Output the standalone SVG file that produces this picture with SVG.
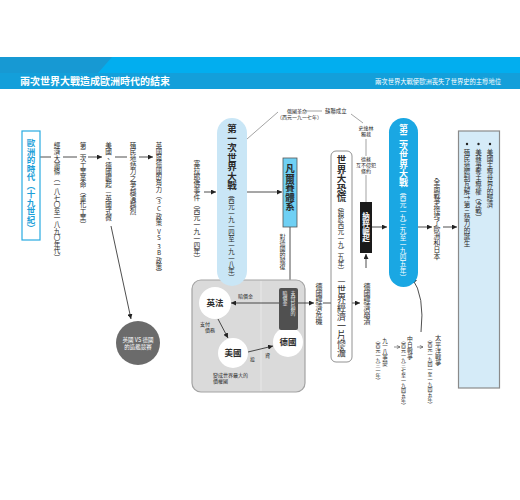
<svg xmlns="http://www.w3.org/2000/svg" width="520" height="500" viewBox="0 0 520 500">
<style>
text { font-family: "Noto Sans CJK TC", "Noto Sans CJK SC", sans-serif; fill: #2a2a2a; }
.v { writing-mode: vertical-rl; text-orientation: upright; }
.b { font-weight: bold; }
.w { fill: #fff; }
.ln { stroke: #222; stroke-width: 0.8; fill: none; }
.gl { stroke: #666; stroke-width: 0.6; fill: none; }
.c { text-anchor: middle; }
</style>
<defs>
<marker id="ah" viewBox="0 0 10 10" refX="10" refY="5" markerWidth="5" markerHeight="5" orient="auto-start-reverse" markerUnits="userSpaceOnUse"><path d="M0,0 L10,5 L0,10 z" fill="#222"/></marker>
<marker id="oa" viewBox="0 0 10 10" refX="10" refY="5" markerWidth="4" markerHeight="4" orient="auto" markerUnits="userSpaceOnUse"><path d="M2,1 L10,5 L2,9" fill="none" stroke="#444" stroke-width="1.5"/></marker>
</defs>
<rect width="520" height="500" fill="#fff"/>
<g id="header">
<rect x="0" y="57" width="520" height="16" fill="#02aeef"/>
<polygon points="0,57 112,57 98,73 0,73" fill="#1799d3"/>
<rect x="0" y="73" width="520" height="16" fill="#139fda"/>
<text x="20" y="84.5" font-size="10" class="b w">兩次世界大戰造成歐洲時代的結束</text>
<text x="501" y="83.5" font-size="6.3" class="w" text-anchor="end">兩次世界大戰使歐洲喪失了世界史的主導地位</text>
</g>
<g id="connectors">
<line class="ln" x1="40" y1="157" x2="51" y2="157"/>
<line class="ln" x1="63" y1="157" x2="77" y2="157"/>
<line class="ln" x1="88" y1="157" x2="102" y2="157" marker-end="url(#ah)"/>
<line class="ln" x1="115" y1="157" x2="127" y2="157"/>
<line class="ln" x1="139" y1="157" x2="153" y2="157" marker-end="url(#ah)"/>
<line class="ln" x1="111" y1="226" x2="131" y2="319" marker-end="url(#ah)"/>
<line class="ln" x1="204" y1="192" x2="216" y2="192" marker-end="url(#ah)"/>
<line class="ln" x1="247" y1="192" x2="282" y2="192" marker-end="url(#ah)"/>
<line class="gl" x1="247" y1="139" x2="278" y2="112"/>
<line class="gl" x1="305" y1="111" x2="322" y2="111"/>
<line class="gl" x1="351" y1="114" x2="363" y2="123"/>
<line class="gl" x1="366" y1="139" x2="366" y2="156"/>
<line class="gl" x1="366" y1="175" x2="366" y2="202"/>
<line class="ln" x1="290" y1="227" x2="290" y2="288"/>
<line class="ln" x1="372" y1="227" x2="387" y2="227" marker-end="url(#ah)"/>
<line class="ln" x1="366" y1="268" x2="366" y2="254" marker-end="url(#ah)"/>
<line class="ln" x1="418" y1="227" x2="432" y2="227" marker-end="url(#ah)"/>
<line class="ln" x1="443" y1="227" x2="457" y2="227" marker-end="url(#ah)"/>
<line class="ln" x1="323" y1="303" x2="331" y2="303"/>
<line class="ln" x1="352" y1="303" x2="360" y2="303" marker-end="url(#ah)"/>
<path class="ln" d="M421,332 Q425,296 412,278" marker-end="url(#ah)"/>
<line x1="394" y1="347" x2="400" y2="347" stroke="#444" stroke-width="0.6" marker-end="url(#oa)"/>
<line x1="417" y1="347" x2="423" y2="347" stroke="#444" stroke-width="0.6" marker-end="url(#oa)"/>
</g>
<g id="europe">
<rect x="22" y="131" width="18" height="109" fill="#fff" stroke="#29abe2" stroke-width="1.2"/>
<text x="31" y="139" font-size="8.5" class="v b" style="fill:#1d9fd9">歐洲的時代（十九世紀）</text>
</g>
<g id="chain">
<text x="57" y="142" font-size="6.6" class="v">經濟大蕭條（一八七〇至一八九〇年代）</text>
<text x="83" y="142" font-size="6.6" class="v">第二次工業革命（重化工業）</text>
<text x="108.5" y="142" font-size="6.6" class="v">美國、德國崛起—英國式微</text>
<text x="133" y="142" font-size="6.6" class="v">殖民地勢力之爭越演越烈</text>
<text x="159" y="142" font-size="6.3" class="v">英國與德國的角力（3C<tspan dy="2">政策</tspan><tspan dy="2">VS</tspan><tspan dy="2">3B</tspan><tspan dy="2">政策）</tspan></text>
<text x="197" y="160" font-size="6.8" class="v">塞拉耶佛事件（西元一九一四年）</text>
</g>
<g id="navalrace">
<circle cx="138" cy="343" r="22" fill="#6b6b6b"/>
<text x="138" y="342" font-size="5.5" class="w c">英國 VS 德國</text>
<text x="138" y="349" font-size="5.5" class="w c">的造艦競賽</text>
</g>
<g id="interwar">
<rect x="192" y="280" width="113" height="112" rx="9" fill="#dadada" stroke="#a3a3a3" stroke-width="1.2"/>
<line x1="261" y1="281" x2="261" y2="391" stroke="#ececec" stroke-width="0.8"/>
<line class="ln" x1="231" y1="303" x2="314" y2="303" marker-start="url(#ah)" marker-end="url(#ah)"/>
<text x="238" y="298" font-size="5">賠償金</text>
<circle cx="215" cy="303" r="16" fill="#fff"/>
<text x="215" y="306" font-size="8.5" class="b c">英法</text>
<circle cx="233" cy="353" r="15" fill="#fff"/>
<text x="233" y="356" font-size="8.5" class="b c">美國</text>
<circle cx="288" cy="342" r="15" fill="#fff"/>
<text x="288" y="345" font-size="8.5" class="b c">德國</text>
<rect x="279" y="288" width="19" height="42" rx="2" fill="#505050"/>
<text x="293" y="291" font-size="5" class="v" style="fill:#eee">支付巨額的</text>
<text x="285" y="291" font-size="5" class="v" style="fill:#eee">賠償金</text>
<line class="ln" x1="218" y1="319" x2="228" y2="338" marker-end="url(#ah)"/>
<line class="ln" x1="248" y1="352" x2="273" y2="346" marker-end="url(#ah)"/>
<text x="200" y="326" font-size="5">支付</text>
<text x="205" y="332" font-size="5">債務</text>
<text x="250" y="361" font-size="5">投</text>
<text x="265" y="357" font-size="5">資</text>
<text x="213" y="377" font-size="5">變成世界最大的</text>
<text x="213" y="383" font-size="5">債權國</text>
</g>
<g id="ww1">
<rect x="217" y="118" width="30" height="168" rx="15" fill="#c9e6f6"/>
<text x="232" y="124" font-size="9.5" class="v b">第一次世界大戰</text>
<text x="231.5" y="191" font-size="6.4" class="v">（西元一九一四至一九一八年）</text>
</g>
<g id="russia">
<text x="287" y="113" font-size="5">俄國革命</text>
<text x="277" y="119" font-size="5">（西元一九一七年）</text>
<text x="325" y="113" font-size="5.4">蘇聯成立</text>
<text x="366" y="130" font-size="5" class="c">史達林</text>
<text x="366" y="136" font-size="5" class="c">獨裁</text>
<text x="366" y="161" font-size="5" class="c">德蘇</text>
<text x="366" y="167" font-size="5" class="c">互不侵犯</text>
<text x="366" y="173" font-size="5" class="c">條約</text>
</g>
<g id="versailles">
<rect x="283" y="158" width="14" height="69" fill="#6fd0f4" stroke="#555" stroke-width="0.8"/>
<text x="290" y="164" font-size="9.5" class="v b">凡爾賽體系</text>
<text x="282.5" y="234" font-size="6" class="v">對德國的報復</text>
</g>
<g id="gercrisis">
<text x="319" y="283" font-size="7" class="v">德國經濟危機</text>
</g>
<g id="depression">
<rect x="331" y="151" width="21" height="211" rx="5" fill="#fff" stroke="#777" stroke-width="0.8"/>
<text x="341.5" y="155" font-size="9.5" class="v b">世界大恐慌</text>
<text x="341" y="203" font-size="6.4" class="v">（始於西元一九二九年）</text>
<text x="341.5" y="276" font-size="9" class="v">—世界經濟一片慘澹</text>
</g>
<g id="gercollapse">
<text x="367" y="283" font-size="7" class="v">德國經濟崩潰</text>
</g>
<g id="nazi">
<rect x="360" y="202" width="12" height="51" fill="#1a1a1a"/>
<text x="366" y="212" font-size="7.5" class="v b w">納粹崛起</text>
</g>
<g id="ww2">
<rect x="389" y="118" width="29" height="169" rx="14.5" fill="#1aa7e3"/>
<text x="403.5" y="124" font-size="9" class="v b w">第二次世界大戰</text>
<text x="403" y="188" font-size="6.6" class="v w">（西元一九三九至一九四五年）</text>
</g>
<g id="totalwar">
<text x="437" y="178" font-size="6.8" class="v">全面戰爭拖垮了歐洲和日本</text>
</g>
<g id="results">
<rect x="458.5" y="131" width="41" height="257" fill="#d5ebf8" stroke="#8a8a8a" stroke-width="1.2"/>
<circle cx="490" cy="144" r="1.2" fill="#222"/>
<text x="490" y="149" font-size="6.5" class="v">美國主導世界的經濟</text>
<circle cx="478.5" cy="144" r="1.2" fill="#222"/>
<text x="478.5" y="149" font-size="6.5" class="v">美蘇爭奪主導權（冷戰）</text>
<circle cx="467" cy="144" r="1.2" fill="#222"/>
<text x="467" y="149" font-size="6.5" class="v">殖民地體制瓦解→第三勢力的誕生</text>
</g>
<g id="mukden">
<text x="385" y="338" font-size="5.5" class="v">九一八事變</text>
<text x="378" y="338" font-size="5" class="v">（西元一九三一年）</text>
</g>
<g id="sinojapanese">
<text x="410" y="336" font-size="5.8" class="v">中日戰爭</text>
<text x="403.5" y="338" font-size="5" class="v">（西元一九三七至一九四五年）</text>
</g>
<g id="pacific">
<text x="438" y="335" font-size="6.2" class="v">太平洋戰爭</text>
<text x="430" y="337" font-size="5" class="v">（西元一九四一至一九四五年）</text>
</g>
</svg>
